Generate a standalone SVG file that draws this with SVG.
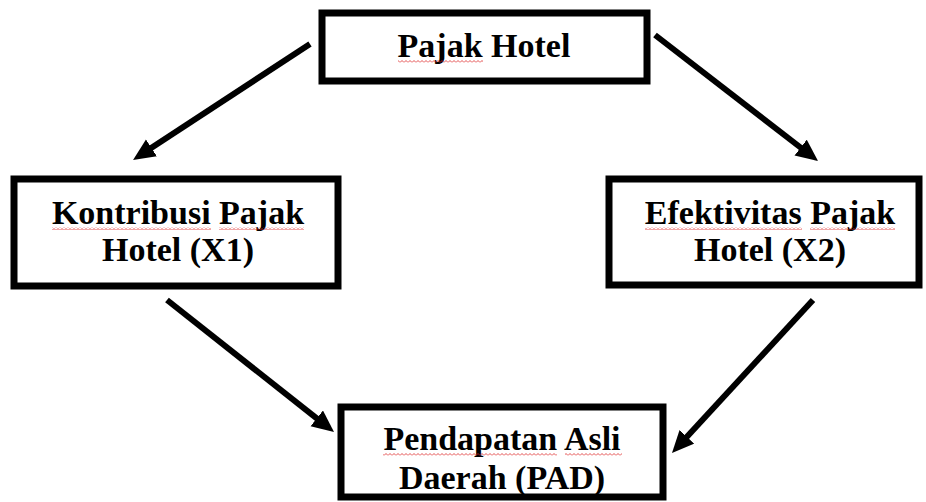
<svg xmlns="http://www.w3.org/2000/svg" width="926" height="502" viewBox="0 0 926 502">
<style>
.box{fill:#fff;stroke:#000;stroke-width:7}
.conn{stroke:#000;stroke-width:6;fill:none;marker-end:url(#ah)}
.sq{fill:url(#squig)}
</style>
<defs>
<marker id="ah" markerUnits="userSpaceOnUse" markerWidth="24" markerHeight="22" refX="4" refY="10" orient="auto">
<path d="M0,0 L22,10 L0,20 Z" fill="#000"/>
</marker>
<pattern id="squig" patternUnits="userSpaceOnUse" width="4" height="3">
<path d="M0,2.5 L2,0.5 L4,2.5" fill="none" stroke="#d22" stroke-width="0.8"/>
</pattern>
</defs>
<rect width="926" height="502" fill="#fff"/>
<g id="pajak-hotel">
<rect class="box" x="322" y="13" width="325" height="68"/>
<text font-family="Liberation Serif" font-weight="bold" font-size="34" text-anchor="middle" x="484" y="57">Pajak Hotel</text>
<rect class="sq" x="398" y="60" width="85" height="3"/>
</g>
<g id="kontribusi">
<rect class="box" x="14" y="179" width="324" height="107"/>
<text font-family="Liberation Serif" font-weight="bold" font-size="34" text-anchor="middle" x="178" y="224">Kontribusi Pajak</text>
<text font-family="Liberation Serif" font-weight="bold" font-size="34" text-anchor="middle" x="178" y="261">Hotel (X1)</text>
<rect class="sq" x="52" y="227" width="159" height="3"/>
<rect class="sq" x="219" y="227" width="85" height="3"/>
</g>
<g id="efektivitas">
<rect class="box" x="609" y="179" width="310" height="106"/>
<text font-family="Liberation Serif" font-weight="bold" font-size="34" text-anchor="middle" x="770" y="224">Efektivitas Pajak</text>
<text font-family="Liberation Serif" font-weight="bold" font-size="34" text-anchor="middle" x="770" y="261">Hotel (X2)</text>
<rect class="sq" x="645" y="227" width="157" height="3"/>
<rect class="sq" x="810" y="227" width="85" height="3"/>
</g>
<g id="pad">
<rect class="box" x="341" y="407" width="322" height="90"/>
<text font-family="Liberation Serif" font-weight="bold" font-size="34" text-anchor="middle" x="502" y="450">Pendapatan Asli</text>
<text font-family="Liberation Serif" font-weight="bold" font-size="34" text-anchor="middle" x="502" y="489">Daerah (PAD)</text>
<rect class="sq" x="383" y="453" width="174" height="3"/>
<rect class="sq" x="565" y="453" width="57" height="3"/>
</g>
<g id="connectors">
<line class="conn" x1="310" y1="44" x2="148.1" y2="150.1"/>
<line class="conn" x1="655" y1="35" x2="803.8" y2="150.0"/>
<line class="conn" x1="167" y1="300" x2="319.9" y2="420.8"/>
<line class="conn" x1="813" y1="300" x2="684.2" y2="439.8"/>
</g>
</svg>
